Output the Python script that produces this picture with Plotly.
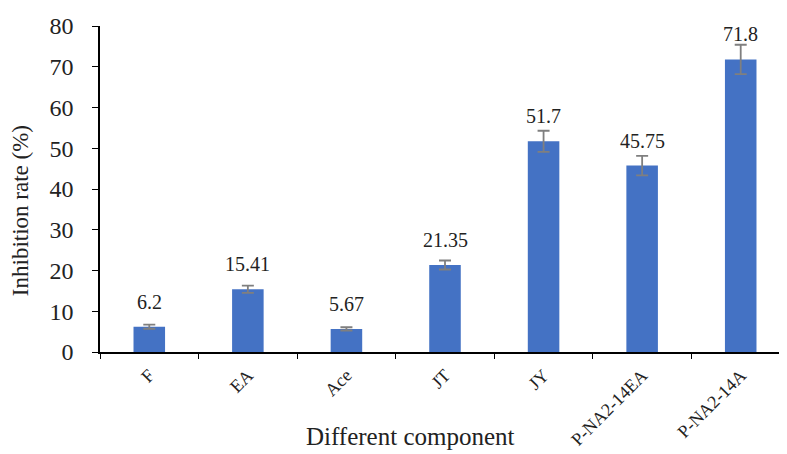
import plotly.graph_objects as go

# data
components = ["F", "EA", "Ace", "JT", "JY", "P-NA2-14EA", "P-NA2-14A"]
inhibition = [6.2, 15.41, 5.67, 21.35, 51.7, 45.75, 71.8]
errors = [0.5, 0.9, 0.4, 1.1, 2.6, 2.4, 3.6]
labels = ["6.2", "15.41", "5.67", "21.35", "51.7", "45.75", "71.8"]

serif = "Liberation Serif, Times New Roman, serif"

fig = go.Figure()
fig.add_trace(go.Bar(
    x=components,
    y=inhibition,
    marker=dict(color="#4472C4", line=dict(width=0)),
    error_y=dict(type="data", array=errors, visible=True,
                 color="#7f7f7f", thickness=1.8, width=6),
    showlegend=False,
))

# value labels above each bar
for c, v, t in zip(components, inhibition, labels):
    fig.add_annotation(x=c, y=v, text=t, showarrow=False, yshift=25,
                       yanchor="middle", font=dict(family=serif, size=20, color="#222"))

# axis titles as free annotations to place them like the original
fig.add_annotation(text="Different component", xref="paper", yref="paper",
                   x=0.45, y=-0.258, xanchor="center", yanchor="middle", showarrow=False,
                   font=dict(family=serif, size=25, color="#222"))
fig.add_annotation(text="Inhibition rate (%)", xref="paper", yref="paper",
                   x=-0.116, y=0.435, xanchor="center", yanchor="middle", textangle=-90,
                   showarrow=False, font=dict(family=serif, size=23, color="#222"))

fig.update_layout(
    width=787, height=454,
    margin=dict(l=92, r=5, t=13, b=110),
    plot_bgcolor="white", paper_bgcolor="white",
    bargap=0.68,
    font=dict(family=serif, color="#222"),
)
fig.update_xaxes(
    showline=True, linecolor="black", linewidth=1.5,
    ticks="outside", tickson="boundaries", ticklen=5, tickcolor="black",
    tickangle=-45, tickfont=dict(family=serif, size=18, color="#222"),
    ticklabelstandoff=4,
    showgrid=False,
)
fig.update_yaxes(
    range=[0, 80], dtick=10,
    showline=True, linecolor="black", linewidth=1.5,
    ticks="outside", ticklen=6, tickcolor="black", ticklabelstandoff=14,
    tickfont=dict(family=serif, size=24, color="#222"),
    showgrid=False, zeroline=False,
)

fig.write_html("out.html")
